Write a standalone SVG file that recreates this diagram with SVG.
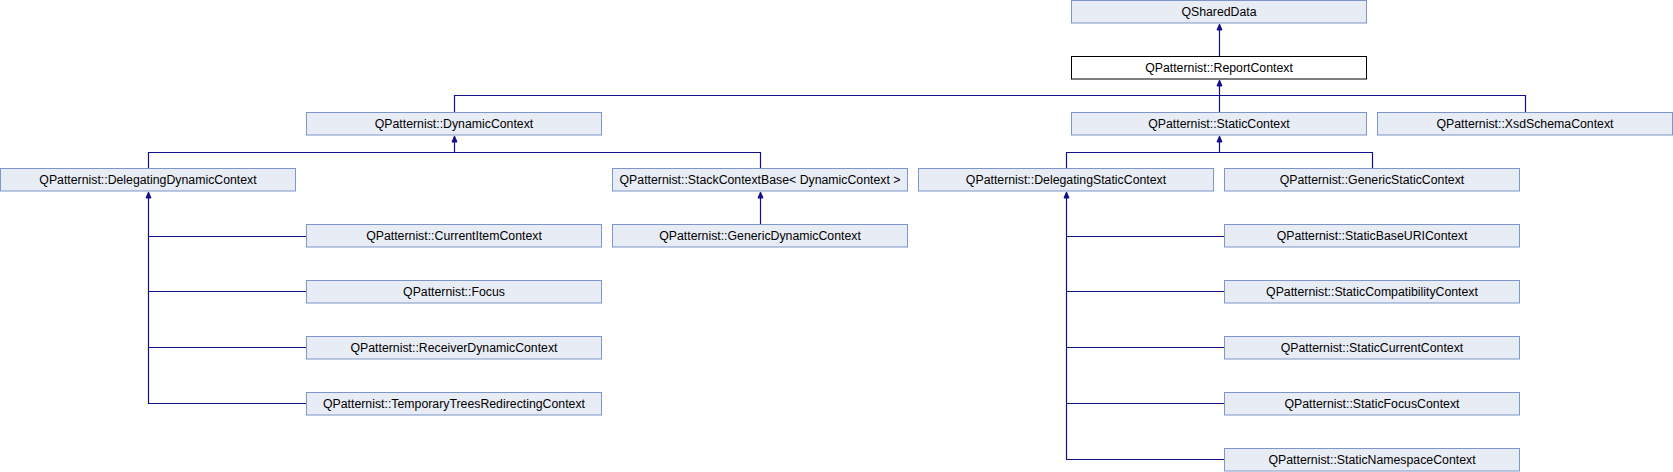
<svg xmlns="http://www.w3.org/2000/svg" width="1673" height="472" viewBox="0 0 1673 472">
<style>
.n rect{fill:#e8ecf5;stroke:#7c95cb;stroke-width:1}
.n.b rect{fill:#ffffff;stroke:#000000}
.n text{font-family:"Liberation Sans",Arial,sans-serif;font-size:12.3px;fill:#000000;text-anchor:middle}
.e path{fill:none;stroke:#10108f;stroke-width:1.2}
.e polygon{fill:#10108f;stroke:#10108f;stroke-width:1}
</style>
<rect width="1673" height="472" fill="#ffffff"/>
<g id="connectors" class="e">
<path d="M1219.5 56.5V29"/>
<polygon points="1219.5,24 1217,30 1222,30"/>
<path d="M454.5 112.5V95.5H1525.5V112.5M1219.5 112.5V85"/>
<polygon points="1219.5,80 1217,86 1222,86"/>
<path d="M148.5 168.5V152.5H760.5V168.5M454.5 152.5V141"/>
<polygon points="454.5,136 452,142 457,142"/>
<path d="M1066.5 168.5V152.5H1372.5V168.5M1219.5 152.5V141"/>
<polygon points="1219.5,136 1217,142 1222,142"/>
<path d="M760.5 224.5V197"/>
<polygon points="760.5,192 758,198 763,198"/>
<path d="M148.5 197V403.5H306.5M148.5 236.5H306.5M148.5 291.5H306.5M148.5 347.5H306.5"/>
<polygon points="148.5,192 146,198 151,198"/>
<path d="M1066.5 197V459.5H1224.5M1066.5 236.5H1224.5M1066.5 291.5H1224.5M1066.5 347.5H1224.5M1066.5 403.5H1224.5"/>
<polygon points="1066.5,192 1064,198 1069,198"/>
</g>
<g id="QSharedData" class="n"><rect x="1071.5" y="0.5" width="295" height="22.5"/><text x="1219" y="15.5">QSharedData</text></g>
<g id="ReportContext" class="n b"><rect x="1071.5" y="56.5" width="295" height="22.5"/><text x="1219" y="71.5">QPatternist::ReportContext</text></g>
<g id="DynamicContext" class="n"><rect x="306.5" y="112.5" width="295" height="22.5"/><text x="454" y="127.5">QPatternist::DynamicContext</text></g>
<g id="StaticContext" class="n"><rect x="1071.5" y="112.5" width="295" height="22.5"/><text x="1219" y="127.5">QPatternist::StaticContext</text></g>
<g id="XsdSchemaContext" class="n"><rect x="1377.5" y="112.5" width="295" height="22.5"/><text x="1525" y="127.5">QPatternist::XsdSchemaContext</text></g>
<g id="DelegatingDynamicContext" class="n"><rect x="0.5" y="168.5" width="295" height="22.5"/><text x="148" y="183.5">QPatternist::DelegatingDynamicContext</text></g>
<g id="StackContextBase" class="n"><rect x="612.5" y="168.5" width="295" height="22.5"/><text x="760" y="183.5">QPatternist::StackContextBase&lt; DynamicContext &gt;</text></g>
<g id="DelegatingStaticContext" class="n"><rect x="918.5" y="168.5" width="295" height="22.5"/><text x="1066" y="183.5">QPatternist::DelegatingStaticContext</text></g>
<g id="GenericStaticContext" class="n"><rect x="1224.5" y="168.5" width="295" height="22.5"/><text x="1372" y="183.5">QPatternist::GenericStaticContext</text></g>
<g id="CurrentItemContext" class="n"><rect x="306.5" y="224.5" width="295" height="22.5"/><text x="454" y="239.5">QPatternist::CurrentItemContext</text></g>
<g id="GenericDynamicContext" class="n"><rect x="612.5" y="224.5" width="295" height="22.5"/><text x="760" y="239.5">QPatternist::GenericDynamicContext</text></g>
<g id="StaticBaseURIContext" class="n"><rect x="1224.5" y="224.5" width="295" height="22.5"/><text x="1372" y="239.5">QPatternist::StaticBaseURIContext</text></g>
<g id="Focus" class="n"><rect x="306.5" y="280.5" width="295" height="22.5"/><text x="454" y="295.5">QPatternist::Focus</text></g>
<g id="StaticCompatibilityContext" class="n"><rect x="1224.5" y="280.5" width="295" height="22.5"/><text x="1372" y="295.5">QPatternist::StaticCompatibilityContext</text></g>
<g id="ReceiverDynamicContext" class="n"><rect x="306.5" y="336.5" width="295" height="22.5"/><text x="454" y="351.5">QPatternist::ReceiverDynamicContext</text></g>
<g id="StaticCurrentContext" class="n"><rect x="1224.5" y="336.5" width="295" height="22.5"/><text x="1372" y="351.5">QPatternist::StaticCurrentContext</text></g>
<g id="TemporaryTreesRedirectingContext" class="n"><rect x="306.5" y="392.5" width="295" height="22.5"/><text x="454" y="407.5">QPatternist::TemporaryTreesRedirectingContext</text></g>
<g id="StaticFocusContext" class="n"><rect x="1224.5" y="392.5" width="295" height="22.5"/><text x="1372" y="407.5">QPatternist::StaticFocusContext</text></g>
<g id="StaticNamespaceContext" class="n"><rect x="1224.5" y="448.5" width="295" height="22.5"/><text x="1372" y="463.5">QPatternist::StaticNamespaceContext</text></g>
</svg>
